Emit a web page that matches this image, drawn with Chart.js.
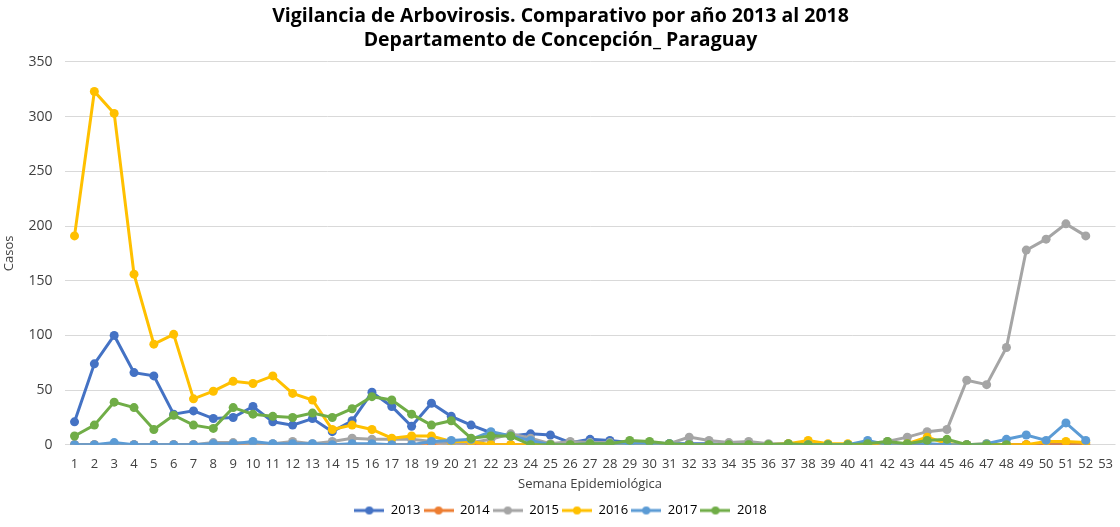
<!DOCTYPE html>
<html lang="es">
<head>
    <meta charset="UTF-8">
    <title>Vigilancia de Arbovirosis</title>
    <script src="https://cdn.jsdelivr.net/npm/chart.js"></script>
    <style>
        body {
            margin: 0;
            background: white;
        }
        #wrap {
            width: 1120px;
            height: 527px;
        }
    </style>
</head>
<body>
    <div id="wrap">
        <canvas id="chart" width="1120" height="527"></canvas>
    </div>

    <script>
        // Semanas 1..53
        const weeks = Array.from({length: 53}, (_, i) => String(i + 1));

        const years = ['2013', '2014', '2015', '2016', '2017', '2018'];
        const colors = ['#4472C4', '#ED7D31', '#A5A5A5', '#FFC000', '#5B9BD5', '#70AD47'];

        const cases2013 = [21, 74, 100, 66, 63, 28, 31, 24, 25, 35, 21, 18, 24, 12, 22, 48, 35, 17, 38, 26,
            18, 11, 8, 10, 9, 2, 5, 4, 2, 2, 1, 1, 1, 0, 0, 0, 0, 0, 0, 0,
            0, 0, 0, 0, 0, 0, 0, 0, 0, 0, 0, 0];
        const cases2014 = [0, 0, 0, 0, 0, 0, 0, 0, 0, 0, 0, 0, 0, 0, 0, 0, 0, 0, 1, 2,
            1, 0, 0, 0, 0, 0, 0, 0, 0, 0, 0, 0, 0, 0, 0, 0, 0, 0, 0, 0,
            0, 0, 0, 0, 0, 0, 0, 0, 0, 0, 0, 0];
        const cases2015 = [0, 0, 0, 0, 0, 0, 0, 2, 2, 1, 1, 3, 1, 3, 6, 5, 5, 5, 3, 0,
            2, 5, 10, 6, 1, 3, 2, 2, 1, 1, 1, 7, 4, 2, 3, 1, 1, 1, 0, 0,
            1, 3, 7, 12, 14, 59, 55, 89, 178, 188, 202, 191];
        const cases2016 = [191, 323, 303, 156, 92, 101, 42, 49, 58, 56, 63, 47, 41, 14, 18, 14, 6, 8, 8, 3,
            3, 0, 0, 0, 0, 0, 0, 0, 0, 0, 0, 0, 0, 0, 0, 0, 1, 4, 1, 1,
            0, 1, 1, 7, 1, 0, 1, 0, 0, 3, 3, 2];
        const cases2017 = [0, 0, 2, 0, 0, 0, 0, 1, 1, 3, 1, 1, 1, 0, 1, 1, 0, 0, 3, 4,
            5, 12, 8, 4, 0, 0, 1, 1, 1, 1, 1, 0, 0, 0, 0, 0, 0, 0, 0, 0,
            4, 0, 0, 1, 0, 0, 1, 5, 9, 4, 20, 4];
        const cases2018 = [8, 18, 39, 34, 14, 27, 18, 15, 34, 28, 26, 25, 29, 25, 33, 44, 41, 28, 18, 22,
            6, 8, 8, 0, 0, 0, 1, 1, 4, 3, 1, 0, 0, 0, 0, 0, 1, 0, 0, 0,
            1, 3, 1, 4, 5, 0, 0, 0, null, null, null, null];

        const series = [cases2013, cases2014, cases2015, cases2016, cases2017, cases2018];

        const yTicks = [0, 50, 100, 150, 200, 250, 300, 350];

        // line + dot sample for the legend, like the spreadsheet legend
        function legendMark(color) {
            const c = document.createElement('canvas');
            c.width = 30;
            c.height = 10;
            const ctx = c.getContext('2d');
            ctx.strokeStyle = color;
            ctx.lineWidth = 3;
            ctx.beginPath();
            ctx.moveTo(0, 5);
            ctx.lineTo(30, 5);
            ctx.stroke();
            ctx.fillStyle = color;
            ctx.beginPath();
            ctx.arc(15, 5, 4, 0, Math.PI * 2);
            ctx.fill();
            return c;
        }

        // later years drawn on top, like the original
        const datasets = years.map((y, i) => ({
            label: y,
            data: series[i],
            order: years.length - i,
            borderColor: colors[i],
            backgroundColor: colors[i],
            borderWidth: 3,
            pointRadius: 4.5,
            pointBorderWidth: 0,
            pointStyle: 'circle',
            tension: 0,
            spanGaps: false
        }));

        Chart.defaults.font.family = '"Open Sans", "Noto Sans", sans-serif';
        Chart.defaults.color = '#595959';

        new Chart(document.getElementById('chart'), {
            type: 'line',
            data: {
                labels: weeks,
                datasets: datasets
            },
            options: {
                responsive: false,
                animation: false,
                layout: {
                    padding: { left: 1, right: 0, top: 0, bottom: 0 }
                },
                plugins: {
                    title: {
                        display: true,
                        text: ['Vigilancia de Arbovirosis. Comparativo por año 2013 al 2018',
                               'Departamento de Concepción_ Paraguay'],
                        color: '#000',
                        font: { size: 19.5, weight: 'bold', lineHeight: 1.23 },
                        padding: { top: 4, bottom: 10 }
                    },
                    legend: {
                        position: 'bottom',
                        labels: {
                            usePointStyle: true,
                            pointStyleWidth: 30,
                            boxHeight: 10,
                            padding: 3,
                            color: '#595959',
                            font: { size: 13 },
                            generateLabels: (chart) => chart.data.datasets.map((ds, i) => ({
                                text: ds.label,
                                pointStyle: legendMark(ds.borderColor),
                                fillStyle: ds.borderColor,
                                strokeStyle: ds.borderColor,
                                lineWidth: 0,
                                hidden: false,
                                datasetIndex: i
                            }))
                        }
                    },
                    tooltip: { enabled: false }
                },
                scales: {
                    x: {
                        offset: true,
                        grid: { display: false },
                        border: { display: false },
                        ticks: {
                            autoSkip: false,
                            maxRotation: 0,
                            color: '#404040',
                            font: { size: 13 },
                            padding: 4
                        },
                        title: {
                            display: true,
                            text: 'Semana Epidemiológica',
                            color: '#404040',
                            font: { size: 13 },
                            padding: { top: 0, bottom: 9 }
                        }
                    },
                    y: {
                        min: 0,
                        max: 350,
                        afterBuildTicks: (axis) => {
                            axis.ticks = yTicks.map(v => ({ value: v }));
                        },
                        grid: {
                            color: '#d9d9d9',
                            lineWidth: 1,
                            drawTicks: false
                        },
                        border: { display: false },
                        ticks: {
                            color: '#404040',
                            font: { size: 14 },
                            padding: 12
                        },
                        title: {
                            display: true,
                            text: 'Casos',
                            color: '#404040',
                            font: { size: 13 },
                            padding: { top: 0, bottom: 0 }
                        }
                    }
                }
            }
        });
    </script>
</body>
</html>
